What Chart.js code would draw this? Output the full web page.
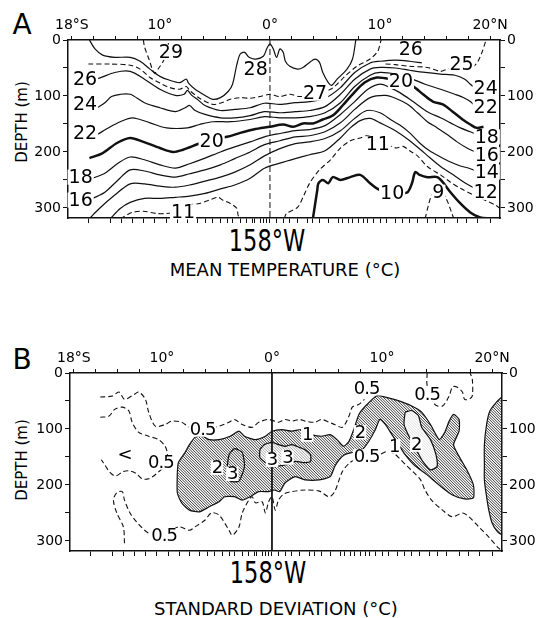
<!DOCTYPE html>
<html>
<head>
<meta charset="utf-8">
<script src="https://cdn.jsdelivr.net/npm/chart.js@4.4.1/dist/chart.umd.min.js"></script>
<style>
  body { margin: 0; background: #fff; width: 540px; height: 618px; position: relative; overflow: hidden;
         font-family: "DejaVu Sans", "Liberation Sans", sans-serif; color: #000; }
  canvas { position: absolute; left: 0; }
  .t { position: absolute; white-space: nowrap; line-height: 1; transform: translate(-50%, -50%); }
  .rot { transform: translate(-50%, -50%) rotate(-90deg); }
  .narrow { transform: translate(-50%, -50%) scaleX(0.75); }
</style>
</head>
<body>
<div class="t" style="left:22px;top:25px;font-size:28px">A</div>
<div class="t rot" style="left:22px;top:122px;font-size:15px">DEPTH (m)</div>
<div class="t narrow" style="left:267px;top:241px;font-size:30px">158°W</div>
<div class="t" style="left:285px;top:270px;font-size:18px">MEAN TEMPERATURE (°C)</div>

<div class="t" style="left:22px;top:360px;font-size:28px">B</div>
<div class="t rot" style="left:22px;top:460px;font-size:15px">DEPTH (m)</div>
<div class="t narrow" style="left:268px;top:573px;font-size:30px">158°W</div>
<div class="t" style="left:276px;top:609px;font-size:18px">STANDARD DEVIATION (°C)</div>

<canvas id="chartA" width="540" height="226" style="top:0"></canvas>
<canvas id="chartB" width="540" height="220" style="top:340px"></canvas>

<script>
const FONT = '"DejaVu Sans", "Liberation Sans", sans-serif';

// axes
const latMin = -18.35, latMax = 20.9, depthMax = 318;
const latTicks = [-18, -16, -14, -12, -10, -8, -6, -4, -2, 0, 2, 4, 6, 8, 10, 12, 14, 16, 18, 20];
const latTickText = { '-18': '18°S', '-10': '10°', '0': '0°', '10': '10°', '20': '20°N' };
const depthTicks = [0, 50, 100, 150, 200, 250, 300];
// station positions (bottom axis ticks)
const stations = [-16.5, -14.5, -13.5, -12.5, -11.5, -10.5, -9.4, -8.4, -7.5, -6.6, -5.9, -5.2, -4.5, -3.9, -3.4,
  -2.7, -2.1, -1.6, -1.4, -0.9, -0.6, -0.3, 0, 0.6, 1.2, 1.8, 2.5, 3.4, 3.9, 4.5, 5.3, 6.2, 6.6, 7.1, 7.5, 8.0,
  8.5, 8.9, 9.4, 10.0, 10.6, 11.4, 12.0, 12.7, 13.4, 14.3, 15.0, 15.9, 17.0, 17.9, 18.9, 20.0];

// ---- A : mean temperature isotherms [latitude, depth] ----
const t29 = [[-11.5,0],[-11.4,12],[-11.0,34],[-10.5,59],[-10.1,50],[-9.7,38],[-9.3,16],[-9.2,0]];
const t28 = [[-16.4,0],[-15.9,16],[-15.2,27],[-14.1,31],[-12.7,31],[-11.8,38],[-10.9,52],[-10.0,65],[-9.1,72],[-8.2,76],
  [-7.6,70],[-7.4,77],[-6.8,88],[-5.9,99],[-5.2,106],[-4.5,103],[-3.8,92],[-3.4,79],[-3.0,43],[-2.7,25],[-2.3,22],
  [-1.9,31],[-1.3,34],[-0.6,29],[-0.3,16],[0,7],[0.3,16],[0.6,31],[0.9,16],[1.2,22],[1.4,38],[1.8,47],[2.5,52],
  [3.0,49],[3.6,40],[4.1,34],[4.5,40],[4.8,58],[5.3,76],[5.6,81],[6.1,70],[7.0,52],[7.5,34],[7.8,0]];
const t27 = [[-16.5,43],[-14.5,43],[-12.7,45],[-11.8,52],[-10.9,67],[-10.0,77],[-9.1,85],[-8.2,88],[-7.6,83],[-7.3,90],
  [-6.4,104],[-5.2,115],[-4.4,112],[-3.6,106],[-2.7,103],[-1.8,104],[-0.9,101],[0,97],[0.9,101],[1.8,97],[2.7,101],
  [4.1,97],[5.5,88],[6.1,79],[6.8,65],[7.9,47],[9.1,34],[9.8,20],[10.0,7],[10.1,0]];
const t26 = [[-16.1,70],[-15.5,68],[-14.1,58],[-12.7,56],[-11.4,70],[-10.0,88],[-8.6,99],[-7.8,97],[-7.5,90],[-7.1,99],
  [-6.6,106],[-5.9,117],[-4.5,126],[-3.2,124],[-1.8,121],[-0.5,113],[0.9,115],[2.3,112],[3.6,110],[5.0,104],[6.4,85],
  [7.7,58],[9.1,41],[10.0,38],[11.4,36],[12.7,38],[13.8,41]];
const t25 = [[10.5,43],[11.4,44],[12.7,47],[14.3,49],[15.5,56],[16.1,52],[16.8,49],[17.9,49],[18.5,47],[18.9,38],[19.3,20],[19.6,2]];
const t24 = [[-15.7,121],[-15.0,112],[-14.4,101],[-13.6,97],[-12.7,97],[-11.4,112],[-10.0,121],[-8.6,128],[-7.7,121],
  [-7.3,117],[-6.8,126],[-5.9,133],[-4.5,139],[-3.2,139],[-1.8,135],[-0.5,128],[0.9,130],[2.3,128],[3.6,126],[5.0,119],
  [6.4,97],[7.7,70],[9.1,52],[10.0,49],[11.4,50],[12.7,54],[14.1,58],[15.5,61],[16.8,63],[17.7,70],[18.2,79],[18.7,86]];
const t22 = [[-15.7,169],[-14.5,155],[-13.6,146],[-12.5,139],[-10.9,148],[-9.4,157],[-7.5,157],[-6.4,151],[-5.2,146],
  [-3.6,146],[-1.8,142],[-0.5,137],[0.9,139],[2.3,139],[3.6,137],[5.0,130],[6.4,112],[7.7,83],[9.1,63],[10.0,58],
  [11.4,61],[12.7,68],[14.1,79],[15.5,88],[16.8,97],[17.7,104],[18.2,110],[18.7,119]];
const t20 = [[-16.4,211],[-15.2,202],[-13.9,184],[-12.7,175],[-11.5,182],[-10.0,193],[-8.8,200],[-7.9,196],[-6.4,185],
  [-5.2,178],[-3.9,173],[-2.7,166],[-1.5,160],[0,155],[1.2,151],[2.1,155],[3.0,149],[3.9,149],[4.8,142],[5.7,135],
  [6.6,117],[7.5,97],[8.6,76],[9.7,67],[10.9,70],[12.1,77],[13.0,83],[13.9,97],[14.8,110],[15.7,115],[16.6,128],
  [17.5,142],[18.2,151],[18.8,157],[19.4,155]];
const t18 = [[-16.1,247],[-15.0,238],[-13.8,220],[-12.7,209],[-11.4,214],[-10.0,223],[-8.6,229],[-7.3,221],[-5.9,211],
  [-4.5,200],[-3.2,191],[-1.8,182],[-0.5,173],[0.9,167],[2.3,162],[3.6,160],[5.0,153],[6.4,133],[7.7,110],[8.9,88],
  [10.0,79],[10.9,85],[11.8,94],[13.0,110],[14.3,128],[15.5,139],[16.4,148],[17.3,157],[18.2,164],[19.1,171]];
const t16 = [[-16.1,283],[-15.0,272],[-13.8,250],[-12.7,232],[-11.4,234],[-10.0,241],[-8.6,245],[-7.3,239],[-5.9,232],
  [-4.5,223],[-3.2,212],[-1.8,200],[-0.5,187],[0.9,180],[2.3,173],[3.6,171],[5.0,164],[6.4,148],[7.7,124],[9.1,103],
  [10.5,99],[11.4,104],[12.5,115],[13.4,130],[14.3,146],[15.2,157],[16.1,169],[17.0,182],[17.9,193],[18.9,202]];
const t14 = [[-16.4,319],[-15.5,301],[-14.1,277],[-12.7,257],[-11.4,257],[-10.0,261],[-8.6,263],[-7.3,259],[-5.9,252],
  [-4.5,245],[-3.2,236],[-1.8,223],[-0.5,207],[0.9,194],[2.3,185],[3.6,182],[5.0,176],[6.4,162],[7.7,140],[8.8,126],
  [10.0,130],[11.1,144],[11.8,152],[12.7,166],[13.6,184],[14.5,198],[15.5,209],[16.4,218],[17.3,225],[18.2,230],[18.9,236]];
const t12 = [[-14.5,319],[-13.6,301],[-12.7,290],[-11.4,283],[-10.0,283],[-8.6,281],[-7.3,279],[-5.9,274],[-4.5,266],
  [-3.2,259],[-1.8,247],[-0.5,229],[0.9,220],[2.3,212],[3.6,205],[5.0,198],[6.4,175],[7.3,157],[8.2,144],[9.1,140],
  [10.0,148],[11.4,162],[12.7,180],[14.1,203],[15.5,226],[16.8,243],[17.7,255],[18.5,264],[18.9,270]];
const t11South = [[-13.6,319],[-13.4,317],[-12.5,308],[-11.5,306],[-10.3,310],[-9.4,310],[-8.6,308],[-7.9,304],[-7.3,295],
  [-6.4,292],[-5.5,286],[-4.7,281],[-4.3,286],[-3.6,292],[-3.0,301],[-2.9,313],[-2.7,319]];
const t11North = [[1.3,319],[1.5,310],[2.5,299],[3.0,281],[3.6,256],[4.5,232],[5.5,214],[6.4,193],[7.3,180],[8.2,175],
  [8.8,171],[9.8,178],[10.7,187],[11.5,193],[12.1,190],[12.7,198],[13.4,207],[14.3,226],[15.5,241],[16.4,254],[17.3,265],
  [18.5,277],[19.5,286],[20.5,295],[20.9,301]];
const t10 = [[3.9,319],[4.3,268],[4.4,256],[4.8,250],[5.3,256],[5.7,245],[6.4,250],[7.3,245],[8.2,241],[9.1,256],
  [9.7,265],[10.5,272],[11.8,274],[12.5,272],[12.9,256],[13.2,236],[13.6,241],[14.3,245],[15.2,245],[15.7,254],
  [16.4,272],[17.3,292],[18.2,308],[19.1,317],[20.0,319]];
const t9 = [[14.1,319],[14.4,295],[14.7,277],[15.3,265],[16.0,283],[16.5,308],[16.7,319]];
const meridian = [[0,0],[0,318]];

const labelsA = [['29',-9.0,22],['28',-1.3,52],['27',4.1,95],['26',-16.8,70],['24',-16.8,115],['22',-16.8,166],
  ['18',-17.2,245],['16',-17.2,286],['20',-5.3,180],['11',-7.9,307],['26',12.8,16],['25',17.4,43],['20',11.9,74],
  ['24',19.6,85],['22',19.6,119],['18',19.7,173],['16',19.7,205],['14',19.7,236],['12',19.6,272],['11',9.8,186],
  ['10',11.1,274],['9',15.3,272]];

// ---- B : standard deviation [latitude, depth] ----
const sdHalfUpper = [[-15.6,43],[-14.5,41],[-13.9,34],[-13.4,47],[-12.5,38],[-12.1,34],[-11.5,47],[-11.2,70],[-10.6,95],
  [-9.7,92],[-9.1,86],[-8.2,88],[-7.5,97],[-6.3,101],[-4.8,95],[-3.9,88],[-3.4,83],[-2.7,92],[-1.8,97],[-1.2,88],
  [-0.3,83],[0.6,88],[1.2,83],[1.8,86],[2.5,83],[3.0,86],[3.9,88],[4.5,83],[5.2,88],[5.7,92],[6.4,97],[7.0,77],
  [7.3,61],[7.9,56],[8.4,47]];
const sdHalfLoop = [[-15.6,79],[-14.8,77],[-14.3,65],[-13.6,61],[-13.0,68],[-12.7,88],[-12.1,106],[-11.2,113],[-10.3,119],
  [-9.7,131],[-9.5,146],[-9.7,164],[-10.5,180],[-11.2,189],[-11.8,189],[-12.3,180],[-12.9,175],[-13.5,176],[-14.2,184],
  [-14.7,178],[-15.2,164],[-15.5,155]];
const sdHalfLower = [[-13.4,304],[-13.5,275],[-14.1,250],[-14.4,227],[-14.1,214],[-13.6,212],[-13.4,227],[-12.9,250],
  [-12.3,266],[-11.2,286],[-9.8,290],[-8.5,275],[-7.5,281],[-7.0,275],[-6.1,263],[-5.5,250],[-4.8,254],[-3.9,281],
  [-3.6,290],[-3.0,275],[-2.7,250],[-2.1,227],[-1.8,221],[-1.5,232],[-0.9,230],[-0.6,250],[-0.3,230],[0,221],[0.3,245],
  [0.6,227],[1.1,216],[1.8,212],[3.0,209],[4.3,211],[5.2,221],[5.7,212],[6.4,176],[7.1,160],[7.8,153],[8.6,149],
  [9.7,146],[10.5,140],[11.1,144],[11.6,153],[12.3,167],[12.9,178],[13.5,191],[13.9,209],[14.5,227],[15.5,245],
  [16.4,257],[17.3,250],[17.9,257],[18.8,275],[19.7,293],[20.6,313],[21.0,319]];
const sdHalfSurface = [[14.1,0],[14.1,22],[14.8,56],[15.5,59],[16.1,41],[16.4,25],[16.8,25],[17.3,34],[17.5,47],[17.9,47],
  [18.2,41],[18.2,11],[18.0,0]];
const sdOneMain = [[-8.6,178],[-8.5,160],[-7.9,142],[-7.5,128],[-7.0,115],[-6.4,112],[-5.7,119],[-4.8,119],[-3.8,113],
  [-3.0,104],[-2.5,113],[-1.5,119],[-0.6,113],[0,104],[0.9,101],[1.8,104],[2.7,101],[3.6,110],[4.5,113],[5.3,110],
  [5.9,119],[6.5,131],[7.0,122],[7.5,97],[7.9,74],[8.5,59],[9.5,41],[10.3,43],[11.4,49],[12.7,59],[13.6,70],[14.4,92],
  [15.2,119],[15.7,106],[16.1,86],[16.5,74],[17.0,83],[17.0,104],[16.5,128],[17.0,149],[17.7,173],[18.3,200],[18.3,223],
  [17.5,225],[16.4,218],[15.3,202],[14.1,182],[12.9,164],[12.1,146],[11.5,128],[10.9,110],[10.3,92],[9.8,83],[9.4,101],
  [8.8,122],[8.2,137],[7.3,142],[6.6,146],[6.1,155],[5.7,167],[5.3,185],[4.3,191],[3.0,191],[2.1,185],[1.2,196],
  [0.7,212],[0.2,209],[-0.3,212],[-1.2,212],[-2.0,221],[-2.7,227],[-3.4,221],[-4.3,221],[-4.8,230],[-5.7,239],
  [-6.6,248],[-7.5,245],[-8.2,232],[-8.6,214]];
const sdOneEdge = [[21.0,41],[20.5,50],[19.8,68],[19.5,92],[19.3,128],[19.3,164],[19.3,191],[19.5,221],[19.7,245],
  [20.0,268],[20.5,284],[21.0,290]];
const sdTwoWest = [[-4.1,173],[-3.9,146],[-3.4,135],[-2.7,142],[-2.5,167],[-3.0,193],[-3.8,193]];
const sdThreeCore = [[-1.1,137],[-0.7,128],[0,124],[0.6,128],[1.2,131],[1.8,128],[2.5,133],[3.0,137],[3.5,146],
  [3.5,158],[3.0,160],[2.1,158],[1.2,164],[0,167],[-0.6,160],[-1.1,151]];
const sdTwoNorth = [[12.1,70],[12.7,67],[13.3,76],[13.6,97],[14.4,119],[14.9,146],[15.0,167],[14.4,173],[13.7,158],
  [13.2,140],[12.5,115],[12.0,92]];

const labelsB = [['0.5',-6.3,101],['0.5',-10.1,160],['0.5',-9.8,290],['0.5',8.6,27],['0.5',14.1,38],['0.5',8.6,149],
  ['<',-13.4,146],['1',3.2,110],['1',11.1,131],['2',8.0,106],['2',13.1,128],['2',-5.0,169],['3',-3.6,180],
  ['3',0,155],['3',1.4,151]];

// dataset for one contour line
function contour(pts, kind) {
  const ds = {
    data: pts.map(p => ({ x: p[0], y: p[1] })),
    showLine: true, pointRadius: 0, pointHoverRadius: 0,
    borderColor: '#111', borderWidth: 1.2, tension: 0.3, fill: false
  };
  if (kind === 'dash') { ds.borderDash = [5, 3]; ds.borderWidth = 1.1; }
  if (kind === 'thick') { ds.borderWidth = 2.5; }
  if (kind === 'closed') { ds.data.push({ x: pts[0][0], y: pts[0][1] }); ds.tension = 0.2; }
  return ds;
}

// hatching, lightened cores and contour labels
function overlay(hatched, blank, labels, size, spacing) {
  return {
    id: 'overlay',
    beforeDatasetsDraw(chart) {
      const { ctx, chartArea: a, scales: { x, y } } = chart;
      const path = pts => {
        ctx.beginPath();
        pts.forEach((p, i) => {
          const px = x.getPixelForValue(p[0]), py = y.getPixelForValue(p[1]);
          if (i) ctx.lineTo(px, py); else ctx.moveTo(px, py);
        });
        ctx.closePath();
      };
      ctx.save();
      ctx.beginPath(); ctx.rect(a.left, a.top, a.width, a.height); ctx.clip();
      hatched.forEach(pts => {
        ctx.save();
        path(pts); ctx.clip();
        ctx.beginPath();
        for (let k = -a.height; k < a.width; k += 2.7) {
          ctx.moveTo(a.left + k, a.top);
          ctx.lineTo(a.left + k + a.height, a.bottom);
        }
        ctx.strokeStyle = '#222'; ctx.lineWidth = 0.9; ctx.stroke();
        ctx.restore();
      });
      blank.forEach(([pts, alpha]) => {
        path(pts); ctx.fillStyle = 'rgba(255,255,255,' + alpha + ')'; ctx.fill();
      });
      ctx.restore();
    },
    afterDatasetsDraw(chart) {
      const { ctx, scales: { x, y } } = chart;
      ctx.save();
      ctx.font = size + 'px ' + FONT;
      if ('letterSpacing' in ctx) ctx.letterSpacing = spacing;
      ctx.textAlign = 'center';
      ctx.textBaseline = 'middle';
      labels.forEach(([text, lat, depth]) => {
        const px = x.getPixelForValue(lat), py = y.getPixelForValue(depth);
        const w = ctx.measureText(text).width;
        ctx.fillStyle = '#fff';
        ctx.fillRect(px - w / 2 - 1, py - size * 0.4, w + 2, size * 0.8);
        ctx.fillStyle = '#000';
        ctx.fillText(text, px, py + 1);
      });
      ctx.restore();
    }
  };
}

function axes(topH, bottomH, leftW, rightW) {
  const fit = (prop, val) => s => {
    s[prop] = val;
    s.paddingLeft = 0; s.paddingRight = 0; s.paddingTop = 0; s.paddingBottom = 0;
  };
  const font = { family: FONT, size: 14 };
  const grid = len => ({ drawOnChartArea: false, drawTicks: true, tickLength: len, color: '#111', lineWidth: 1 });
  const border = { display: true, color: '#111', width: 1.5 };
  const depthAxis = (position, width) => ({
    type: 'linear', position, reverse: true, min: 0, max: depthMax,
    afterBuildTicks: s => { s.ticks = depthTicks.map(v => ({ value: v })); },
    ticks: { autoSkip: false, padding: 2, color: '#000', font, callback: v => (v % 100 === 0 ? String(v) : '') },
    grid: grid(5), border, afterFit: fit('width', width)
  });
  return {
    x: {
      type: 'linear', position: 'top', min: latMin, max: latMax,
      afterBuildTicks: s => { s.ticks = latTicks.map(v => ({ value: v })); },
      ticks: { autoSkip: false, maxRotation: 0, padding: 2, color: '#000', font, callback: v => latTickText[v] || '' },
      grid: grid(4), border, afterFit: fit('height', topH)
    },
    x2: {
      type: 'linear', position: 'bottom', min: latMin, max: latMax,
      afterBuildTicks: s => { s.ticks = stations.map(v => ({ value: v })); },
      ticks: { autoSkip: false, maxRotation: 0, padding: 0, font, callback: () => '' },
      grid: grid(5), border, afterFit: fit('height', bottomH)
    },
    y: depthAxis('left', leftW),
    y2: depthAxis('right', rightW)
  };
}

function makeChart(id, datasets, scales, plugin) {
  return new Chart(document.getElementById(id), {
    type: 'scatter',
    data: { datasets },
    options: {
      responsive: false, animation: false, events: [], devicePixelRatio: 1,
      layout: { padding: 0 },
      plugins: { legend: { display: false }, tooltip: { enabled: false } },
      scales
    },
    plugins: [plugin]
  });
}

Chart.defaults.color = '#000';

makeChart('chartA', [
  contour(t29, 'dash'), contour(t28), contour(t27, 'dash'), contour(t26), contour(t25, 'dash'),
  contour(t24), contour(t22), contour(t20, 'thick'), contour(t18), contour(t16), contour(t14), contour(t12),
  contour(t11South, 'dash'), contour(t11North, 'dash'), contour(t10, 'thick'), contour(t9, 'dash'),
  Object.assign(contour(meridian), { borderDash: [6, 3], borderWidth: 1, tension: 0 })
], axes(40, 8, 68, 40), overlay([], [], labelsA, 19, '0px'));

makeChart('chartB', [
  contour(sdOneMain, 'closed'), contour(sdOneEdge), contour(sdTwoWest, 'closed'), contour(sdThreeCore, 'closed'),
  contour(sdTwoNorth, 'closed'),
  contour(sdHalfUpper, 'dash'), contour(sdHalfLoop, 'dash'), contour(sdHalfLower, 'dash'), contour(sdHalfSurface, 'dash'),
  Object.assign(contour(meridian), { borderWidth: 1, tension: 0 })
], axes(33, 9, 70, 38),
   overlay([sdOneMain, sdOneEdge], [[sdThreeCore, 0.55], [sdTwoNorth, 0.85]], labelsB, 18, '-1px'));
</script>
</body>
</html>
